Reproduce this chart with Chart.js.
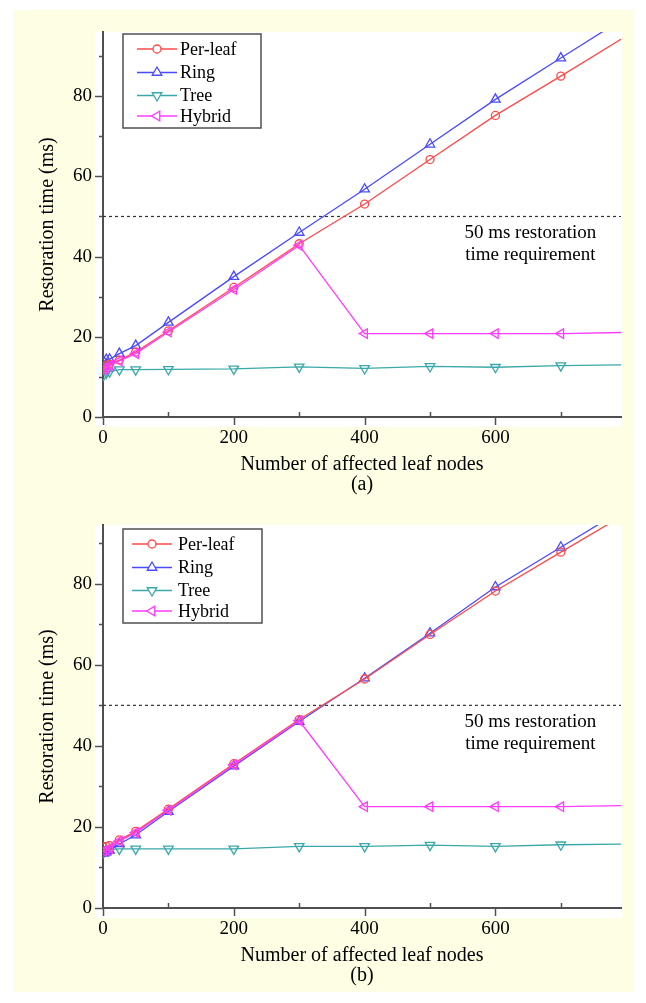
<!DOCTYPE html>
<html>
<head>
<meta charset="utf-8">
<title>Restoration time vs. affected leaf nodes</title>
<script src="https://cdn.jsdelivr.net/npm/chart.js@4.4.1/dist/chart.umd.min.js"></script>
<style>
  html, body { margin: 0; padding: 0; background: #fff; }
  body  { width: 646px; height: 1003px; position: relative; overflow: hidden; }
  #panel { position: absolute; left: 13px; top: 10px; width: 620px; height: 982px; background: #fefee4; }
  .wrap { position: absolute; left: 0; width: 646px; }
  #wrapA { top: 0; }
  #wrapB { top: 490px; }
</style>
</head>
<body>
<div id="panel"></div>
<div class="wrap" id="wrapA"><canvas id="chartA" width="646" height="505"></canvas></div>
<div class="wrap" id="wrapB"><canvas id="chartB" width="646" height="513"></canvas></div>

<script>
/* ── Data ────────────────────────────────────────────────────────────────── */
const LEAF_NODES   = [1, 5, 10, 25, 50, 100, 200, 300, 400, 500, 600, 700, 800];
const SERIES_NAMES = ['Per-leaf', 'Ring', 'Tree', 'Hybrid'];
const X_TICKS  = [0, 200, 400, 600];
const X_MINOR  = [100, 300, 500, 700];
const Y_TICKS  = [0, 20, 40, 60, 80];
const Y_MINOR  = [10, 30, 50, 70, 90];
const THRESHOLD_MS   = 50;
const THRESHOLD_TEXT = ['50 ms restoration', 'time requirement'];
const X_TITLE = 'Number of affected leaf nodes';
const Y_TITLE = 'Restoration time (ms)';

// panel (a)
const A_PER_LEAF = [12.3, 12.8, 13.2, 14.2, 16.2, 21.5, 32.3, 43.2, 53.1, 64.2, 75.2, 85.0, 95.0];
const A_RING     = [13.8, 14.3, 14.4, 15.8, 17.8, 23.6, 35.0, 46.0, 56.8, 68.0, 79.2, 89.5, 99.8];
const A_TREE     = [10.5, 11.0, 11.3, 11.8, 11.8, 11.9, 12.0, 12.5, 12.1, 12.6, 12.4, 12.8, 13.0];
const A_HYBRID   = [11.8, 12.3, 12.8, 14.0, 15.8, 21.2, 31.8, 42.8, 20.8, 20.8, 20.8, 20.8, 21.1];

// panel (b)
const B_PER_LEAF = [15.0, 15.2, 15.4, 16.8, 18.9, 24.4, 35.6, 46.5, 56.5, 67.5, 78.2, 87.8, 97.3];
const B_RING     = [13.5, 13.8, 14.2, 15.8, 18.0, 23.8, 35.0, 46.0, 56.7, 67.8, 79.2, 89.0, 98.8];
const B_TREE     = [13.8, 14.2, 14.4, 14.6, 14.6, 14.6, 14.6, 15.2, 15.2, 15.5, 15.2, 15.6, 15.8];
const B_HYBRID   = [14.0, 14.3, 14.8, 16.5, 18.6, 24.1, 35.3, 46.2, 25.0, 25.0, 25.0, 25.0, 25.3];

/* ── Styles ──────────────────────────────────────────────────────────────── */
const X_MAX = 792;
const FONT  = '"Liberation Serif", "Times New Roman", serif';
const AXIS_COLOR = '#505050';
const STYLES = [
  { color: '#ff4a4a', pointStyle: 'circle',   rotation: 0,   radius: 4 },
  { color: '#4a4aff', pointStyle: 'triangle', rotation: 0,   radius: 5.5 },
  { color: '#3aa8a8', pointStyle: 'triangle', rotation: 180, radius: 5.5 },
  { color: '#ff3cff', pointStyle: 'triangle', rotation: 270, radius: 5.5 },
];
const LEGEND_ROWS = [15, 38.5, 61.5, 82];

function series(i, values) {
  const s = STYLES[i];
  return {
    label: SERIES_NAMES[i],
    data: LEAF_NODES.map((x, k) => ({ x, y: values[k] })),
    borderColor: s.color,
    borderWidth: 1.3,
    pointStyle: s.pointStyle,
    pointRotation: s.rotation,
    pointRadius: ctx => (ctx.raw && ctx.raw.x > X_MAX) ? 0 : s.radius,
    pointBorderColor: s.color,
    pointBackgroundColor: 'rgba(255,255,255,0)',
    pointBorderWidth: 1.3,
    tension: 0,
  };
}

function thresholdLine() {
  return {
    label: 'threshold',
    data: [{ x: 0, y: THRESHOLD_MS }, { x: X_MAX, y: THRESHOLD_MS }],
    borderColor: '#333',
    borderWidth: 1.2,
    borderDash: [3, 3],
    pointRadius: 0,
  };
}

/* ── Frame, ticks, titles, legend ────────────────────────────────────────── */
const figurePlugin = {
  id: 'figure',
  beforeDraw(chart) {
    const { ctx, chartArea: a } = chart;
    ctx.save();
    ctx.fillStyle = '#fff';
    ctx.fillRect(a.left - 8, a.top, a.right - a.left + 9, a.bottom - a.top + 10);
    ctx.restore();
  },
  afterDraw(chart, args, opts) {
    const { ctx, chartArea: a, scales: { x, y } } = chart;
    ctx.save();

    // ticks
    ctx.strokeStyle = AXIS_COLOR;
    ctx.lineWidth = 1.5;
    const seg = (x0, y0, x1, y1) => { ctx.beginPath(); ctx.moveTo(x0, y0); ctx.lineTo(x1, y1); ctx.stroke(); };
    Y_TICKS.forEach(v => { const p = Math.round(y.getPixelForValue(v)) + 0.5; seg(a.left - 8, p, a.left, p); });
    Y_MINOR.forEach(v => { const p = Math.round(y.getPixelForValue(v)) + 0.5; seg(a.left - 4, p, a.left, p); });
    X_TICKS.forEach(v => { const p = Math.round(x.getPixelForValue(v)) + 0.5; seg(p, a.bottom, p, a.bottom + 8); });
    X_MINOR.forEach(v => { const p = Math.round(x.getPixelForValue(v)) + 0.5; seg(p, a.bottom - 5, p, a.bottom); });

    // axis titles and caption
    ctx.fillStyle = '#000';
    ctx.textAlign = 'center';
    ctx.textBaseline = 'middle';
    ctx.font = '20px ' + FONT;
    const cx = (a.left + a.right) / 2;
    ctx.fillText(X_TITLE, cx, a.bottom + 48);
    ctx.fillText(opts.caption, cx, a.bottom + 68);
    ctx.save();
    ctx.translate(48, (a.top + a.bottom) / 2);
    ctx.rotate(-Math.PI / 2);
    ctx.fillText(Y_TITLE, 0, 0);
    ctx.restore();

    // threshold note
    ctx.font = '19px ' + FONT;
    const ty = y.getPixelForValue(THRESHOLD_MS);
    const tx = a.left + (a.right - a.left) * 0.825;
    ctx.fillText(THRESHOLD_TEXT[0], tx, ty + 17);
    ctx.fillText(THRESHOLD_TEXT[1], tx, ty + 39);

    // legend
    const L = opts.legend;
    ctx.fillStyle = '#fff';
    ctx.fillRect(L.x, L.y, L.w, L.h);
    ctx.strokeStyle = AXIS_COLOR;
    ctx.lineWidth = 1.5;
    ctx.strokeRect(L.x, L.y, L.w, L.h);
    ctx.font = '18px ' + FONT;
    ctx.textAlign = 'left';
    SERIES_NAMES.forEach((name, i) => {
      const s = STYLES[i];
      const ry = L.y + LEGEND_ROWS[i];
      ctx.strokeStyle = s.color;
      ctx.lineWidth = 1.3;
      seg(L.x + L.line0, ry, L.x + L.line1, ry);
      ctx.fillStyle = '#fff';
      Chart.helpers.drawPoint(ctx, {
        pointStyle: s.pointStyle, rotation: s.rotation,
        radius: s.radius, borderWidth: 1.3,
      }, L.x + (L.line0 + L.line1) / 2, ry);
      ctx.fillStyle = '#000';
      ctx.fillText(name, L.x + L.text, ry + 1);
    });
    ctx.restore();
  }
};

/* ── Chart builder ───────────────────────────────────────────────────────── */
function makeChart(id, sets, yMax, padding, caption, legend) {
  return new Chart(document.getElementById(id), {
    type: 'line',
    data: {
      datasets: [
        series(3, sets[3]),
        series(0, sets[0]),
        series(1, sets[1]),
        series(2, sets[2]),
        thresholdLine(),
      ]
    },
    options: {
      responsive: false,
      animation: false,
      layout: { padding },
      plugins: {
        legend: { display: false },
        tooltip: { enabled: false },
        figure: { caption, legend },
      },
      scales: {
        x: {
          type: 'linear', min: 0, max: X_MAX,
          afterFit: s => { s.height = 30; },
          afterBuildTicks: s => { s.ticks = X_TICKS.map(value => ({ value })); },
          grid: { display: false, drawTicks: false },
          border: { display: true, color: AXIS_COLOR, width: 2 },
          ticks: { padding: 10, color: '#000', font: { family: FONT, size: 19 }, maxRotation: 0 },
        },
        y: {
          type: 'linear', min: 0, max: yMax,
          afterFit: s => { s.width = 103; },
          afterBuildTicks: s => { s.ticks = Y_TICKS.map(value => ({ value })); },
          grid: { display: false, drawTicks: false },
          border: { display: true, color: AXIS_COLOR, width: 2 },
          ticks: { padding: 11, color: '#000', font: { family: FONT, size: 19 } },
        }
      }
    },
    plugins: [figurePlugin]
  });
}

makeChart('chartA', [A_PER_LEAF, A_RING, A_TREE, A_HYBRID], 96,
  { left: 0, right: 25, top: 32, bottom: 58 }, '(a)',
  { x: 123, y: 34, w: 138, h: 94, line0: 14, line1: 54, text: 57 });

makeChart('chartB', [B_PER_LEAF, B_RING, B_TREE, B_HYBRID], 94.5,
  { left: 0, right: 25, top: 35, bottom: 65 }, '(b)',
  { x: 123, y: 39, w: 139, h: 94, line0: 9, line1: 49, text: 55 });
</script>
</body>
</html>
